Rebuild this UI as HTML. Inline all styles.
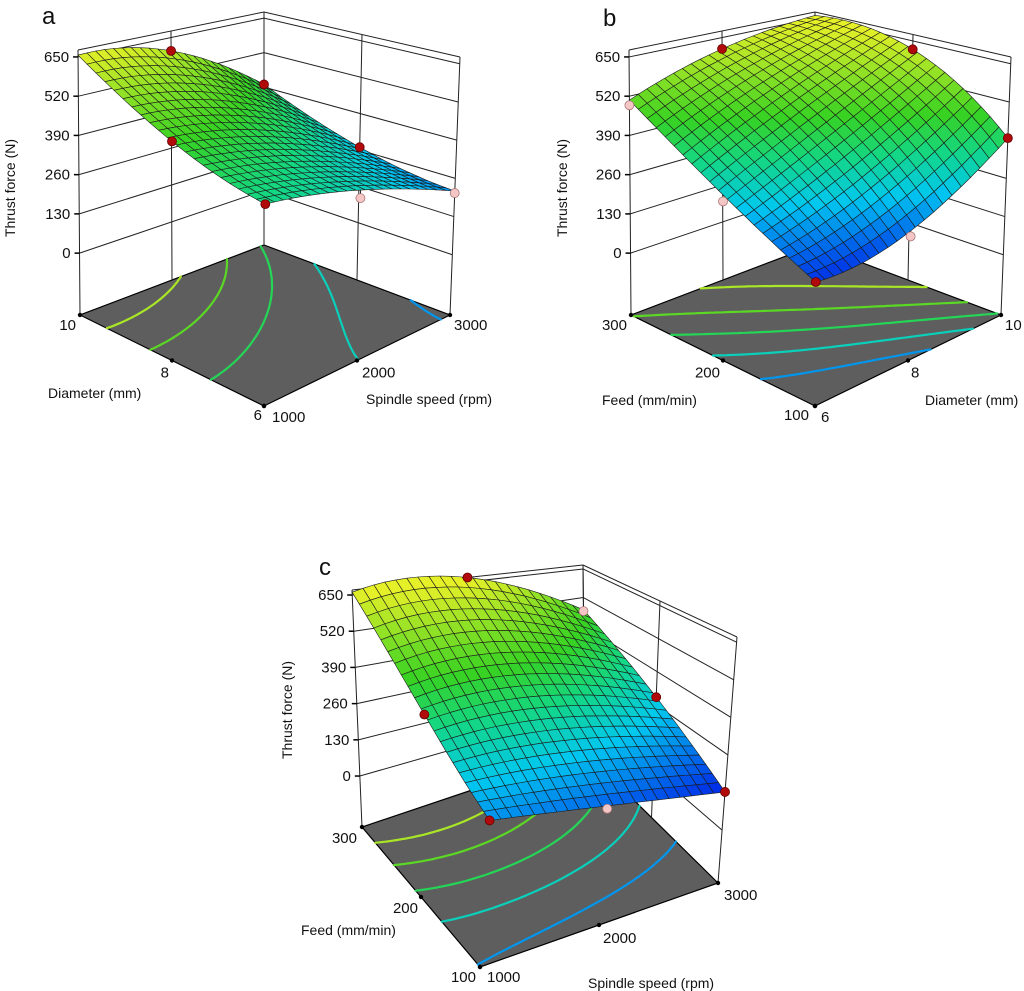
<!DOCTYPE html>
<html><head><meta charset="utf-8"><style>
html,body{margin:0;padding:0;background:#fff;}
svg{display:block;font-family:"Liberation Sans",sans-serif;}
</style></head><body>
<svg id="fig" width="1024" height="991" viewBox="0 0 1024 991" xmlns="http://www.w3.org/2000/svg">
<rect width="1024" height="991" fill="#fff"/>
</svg>
<script>
// ---- data ----
// 3x3 grids of thrust force: rows u=-1,0,1 ; cols v=-1,0,1 (coded factor levels)
const aGrid=[[365,321,217],[463,410,270],[656,603,400]];
const bGrid=[[145,195,397],[300,450,620],[507,610,660]];
const cGrid=[[226,185,132],[390,400,290],[660,668,464]];
const zTicks=[0,130,260,390,520,650];
const aULabels=['6','8','10'];
const aVLabels=['1000','2000','3000'];
const bULabels=['100','200','300'];
const bVLabels=['6','8','10'];
const cULabels=['100','200','300'];
const cVLabels=['1000','2000','3000'];
const contourLevels=[230,320,410,500,590];
// design points: [u coded, v coded, thrust, kind]
const aPoints=[[1,0,603,'r'],[1,1,400,'r'],[0,-1,463,'r'],[-1,-1,365,'r'],[0,1,270,'r'],[-1,0,296,'p'],[-1,1,210,'p']];
const bPoints=[[1,0,610,'r'],[0,1,620,'r'],[-1,1,397,'r'],[-1,-1,145,'r'],[1,-1,490,'p'],[0,-1,280,'p'],[-1,0,178,'p']];
const cPoints=[[1,0,668,'r'],[0,-1,390,'r'],[0,1,290,'r'],[-1,1,132,'r'],[-1,-1,226,'r'],[-1,0,176,'p'],[1,1,458,'p']];
// ---------------------------------------
const NS='http://www.w3.org/2000/svg';
const svg=document.getElementById('fig');
function mk(tag,attrs,parent){const e=document.createElementNS(NS,tag);for(const k in attrs)e.setAttribute(k,attrs[k]);(parent||svg).appendChild(e);return e;}
function bil(F,L,R,B,u,v){return [F[0]*(1-u)*(1-v)+L[0]*u*(1-v)+R[0]*(1-u)*v+B[0]*u*v, F[1]*(1-u)*(1-v)+L[1]*u*(1-v)+R[1]*(1-u)*v+B[1]*u*v];}
function proj(g,u,v,z){const f=bil(g.F,g.L,g.R,g.B,u,v),t=bil(g.TF,g.TL,g.TR,g.TB,u,v);const k=(z-g.zmin)/(g.zmax-g.zmin);return [f[0]+(t[0]-f[0])*k,f[1]+(t[1]-f[1])*k];}
function lag(x){return [x*(x-1)/2,1-x*x,x*(x+1)/2];}
function val(grid,uc,vc){const a=lag(uc),b=lag(vc);let s=0;for(let i=0;i<3;i++)for(let j=0;j<3;j++)s+=grid[i][j]*a[i]*b[j];return s;}
const stops=[[0,[0,35,230]],[0.27,[0,200,240]],[0.45,[20,215,130]],[0.62,[55,210,35]],[1,[230,240,40]]];
function cmap(z){let t=(z-130)/(660-130);t=Math.max(0,Math.min(1,t));for(let i=1;i<stops.length;i++){if(t<=stops[i][0]){const a=stops[i-1],b=stops[i];const r=(t-a[0])/(b[0]-a[0]);const c=a[1].map((x,k)=>Math.round(x+(b[1][k]-x)*r));return 'rgb('+c.join(',')+')';}}return 'rgb(230,240,40)';}
function pt(p){return p[0].toFixed(1)+','+p[1].toFixed(1);}

function drawPanel(id,g,grid,uLab,vLab,points,txt){
  const G=mk('g',{});
  
  
  const fl=mk('polygon',{points:[g.F,g.L,g.B,g.R].map(pt).join(' '),fill:'#5e5e5e',stroke:'#000','stroke-width':1.2},G);
  
  
  const N=48;
  const cg=mk('g',{},G);
  
  
  contourLevels.forEach(lv=>{
    let d='';
    for(let i=0;i<N;i++)for(let j=0;j<N;j++){
      const u0=i/N,u1=(i+1)/N,v0=j/N,v1=(j+1)/N;
      const c=[[u0,v0],[u1,v0],[u1,v1],[u0,v1]];
      const z=c.map(q=>val(grid,q[0]*2-1,q[1]*2-1));
      const cr=[];
      for(let e=0;e<4;e++){const a=e,b=(e+1)%4;if((z[a]<lv)!==(z[b]<lv)){const r=(lv-z[a])/(z[b]-z[a]);cr.push([c[a][0]+(c[b][0]-c[a][0])*r,c[a][1]+(c[b][1]-c[a][1])*r]);}}
      for(let k=0;k+1<cr.length;k+=2){const p=bil(g.F,g.L,g.R,g.B,cr[k][0],cr[k][1]),q=bil(g.F,g.L,g.R,g.B,cr[k+1][0],cr[k+1][1]);d+='M'+pt(p)+'L'+pt(q);}
    }
    if(d){const p=mk('path',{d:d,stroke:cmap(lv),'stroke-width':2.2,fill:'none','stroke-linecap':'round'},cg);
      
      }
  });
  const wg=mk('g',{stroke:'#222','stroke-width':1,fill:'none'},G);
  
  
  const line=(a,b)=>mk('line',{x1:a[0],y1:a[1],x2:b[0],y2:b[1]},wg);
  zTicks.concat([g.zmax]).forEach(z=>{line(proj(g,1,0,z),proj(g,1,1,z));line(proj(g,1,1,z),proj(g,0,1,z));});
  [0,0.5,1].forEach(s=>{line(proj(g,1,s,g.zmin),proj(g,1,s,g.zmax));line(proj(g,s,1,g.zmin),proj(g,s,1,g.zmax));});
  zTicks.forEach(z=>{const p=proj(g,1,0,z);
    mk('line',{x1:p[0]-5,y1:p[1],x2:p[0],y2:p[1],stroke:'#000','stroke-width':1.5},G);
    const t=mk('text',{x:p[0]-9,y:p[1]+5,'font-size':15,'text-anchor':'end',fill:'#111'},G);t.textContent=z;
    
    });
  [0,0.5,1].forEach((s,k)=>{
    const pu=bil(g.F,g.L,g.R,g.B,s,0);mk('circle',{cx:pu[0],cy:pu[1],r:2.2,fill:'#000'},G);
    const tu=mk('text',{x:pu[0]+txt.uOff[k][0],y:pu[1]+txt.uOff[k][1],'font-size':15,'text-anchor':'end',fill:'#111'},G);tu.textContent=uLab[k];
    
    
    const pv=bil(g.F,g.L,g.R,g.B,0,s);mk('circle',{cx:pv[0],cy:pv[1],r:2.2,fill:'#000'},G);
    const tv=mk('text',{x:pv[0]+txt.vOff[k][0],y:pv[1]+txt.vOff[k][1],'font-size':15,'text-anchor':'start',fill:'#111'},G);tv.textContent=vLab[k];
    
    
  });
  const n=21,quads=[];
  for(let i=0;i<n;i++)for(let j=0;j<n;j++){
    const c=[[i/n,j/n],[(i+1)/n,j/n],[(i+1)/n,(j+1)/n],[i/n,(j+1)/n]];
    const zs=c.map(q=>val(grid,q[0]*2-1,q[1]*2-1));
    quads.push({c:c,z:zs,d:(i+j+1)/n});
  }
  quads.sort((a,b)=>b.d-a.d);
  const sg=mk('g',{stroke:'#1b1b1b','stroke-width':0.6,'stroke-linejoin':'round'},G);
  
  
  quads.forEach(q=>{const P=q.c.map((c,k)=>proj(g,c[0],c[1],q.z[k]));const zm=(q.z[0]+q.z[1]+q.z[2]+q.z[3])/4;
    const pg=mk('polygon',{points:P.map(pt).join(' '),fill:cmap(zm)},sg);
    
    });
  points.forEach(p=>{const u=(p[0]+1)/2,v=(p[1]+1)/2;const q=proj(g,u,v,p[2]);
    if(p[3]==='p'){const s=proj(g,u,v,val(grid,p[0],p[1]));mk('line',{x1:q[0],y1:q[1],x2:s[0],y2:s[1],stroke:'#222','stroke-width':1},G);}
    const c=mk('circle',{cx:q[0],cy:q[1],r:4.5,fill:p[3]==='r'?'#b00a0a':'#f4c6c6',stroke:p[3]==='r'?'#600':'#a77','stroke-width':0.8},G);
    
    });
  const tz=mk('text',{x:0,y:0,'font-size':14,'text-anchor':'middle',fill:'#111',transform:'translate('+txt.zt[0]+','+txt.zt[1]+') rotate(-90)'},G);tz.textContent='Thrust force (N)';
  
  
  const tu=mk('text',{x:txt.ut[0],y:txt.ut[1],'font-size':14,fill:'#111'},G);tu.textContent=txt.utxt;
  
  
  const tv=mk('text',{x:txt.vt[0],y:txt.vt[1],'font-size':14,fill:'#111'},G);tv.textContent=txt.vtxt;
  
  
  const tl=mk('text',{x:txt.lab[0],y:txt.lab[1],'font-size':24,fill:'#111'},G);tl.textContent=id;
  
  
}
const geoA={F:[264,406],L:[80,315],R:[450,315],B:[264,245],TF:[266,95],TL:[78,50],TR:[460,57],TB:[264,12],zmin:-205,zmax:673};
const sh=(g,dx)=>{const o={zmin:g.zmin,zmax:g.zmax};['F','L','R','B','TF','TL','TR','TB'].forEach(k=>o[k]=[g[k][0]+dx,g[k][1]]);return o;};
const geoB=sh(geoA,551);
const geoC={F:[480,967],L:[362,827],R:[718,883],B:[585,752],TF:[500,662],TL:[352,590],TR:[737,637],TB:[583,565],zmin:-183,zmax:668};
drawPanel('a',geoA,aGrid,aULabels,aVLabels,aPoints,{uOff:[[-2,14],[-3,17],[-4,15]],vOff:[[8,16],[5,17],[4,15]],zt:[15,188],ut:[48,398],utxt:'Diameter (mm)',vt:[366,404],vtxt:'Spindle speed (rpm)',lab:[42,24]});
drawPanel('b',geoB,bGrid,bULabels,bVLabels,bPoints,{uOff:[[-6,14],[-3,17],[-4,15]],vOff:[[6,16],[3,17],[4,15]],zt:[567,188],ut:[602,405],utxt:'Feed (mm/min)',vt:[925,405],vtxt:'Diameter (mm)',lab:[603,26]});
drawPanel('c',geoC,cGrid,cULabels,cVLabels,cPoints,{uOff:[[-4,15],[-3,16],[-5,16]],vOff:[[7,15],[4,18],[6,17]],zt:[292,710],ut:[301,935],utxt:'Feed (mm/min)',vt:[588,988],vtxt:'Spindle speed (rpm)',lab:[319,575]});
</script>
</body></html>
